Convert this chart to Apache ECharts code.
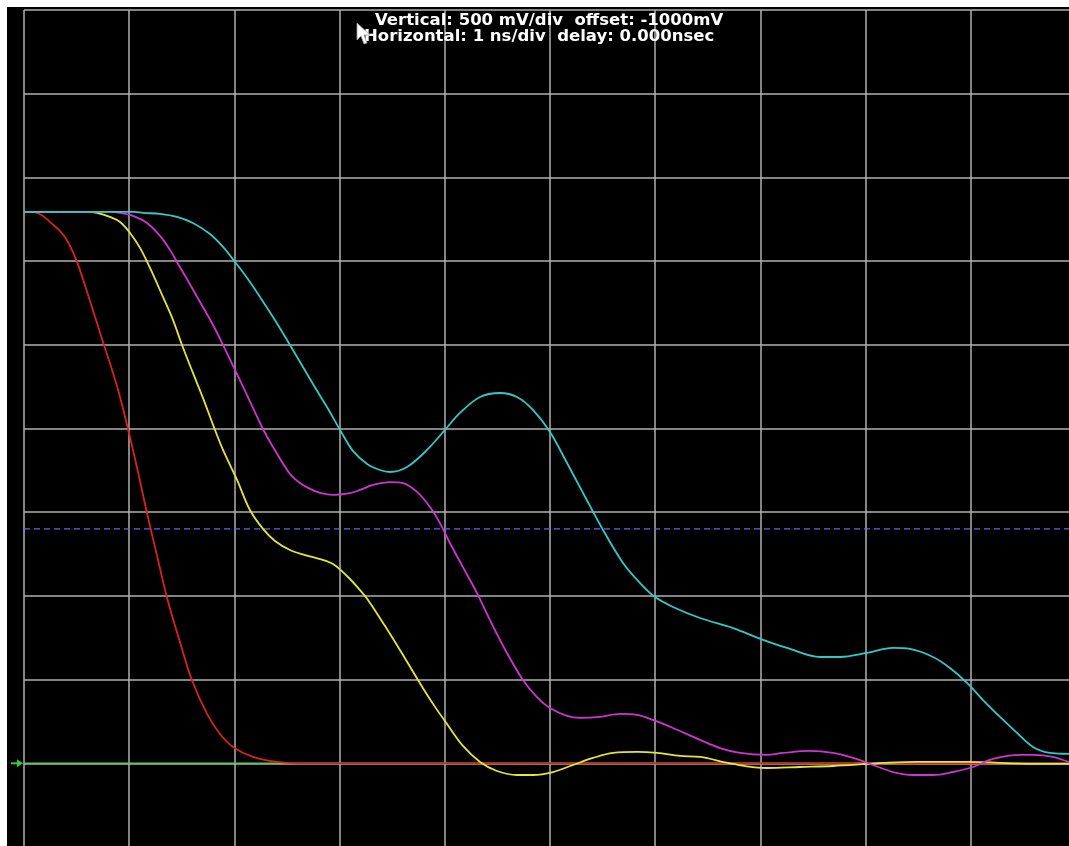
<!DOCTYPE html>
<html>
<head>
<meta charset="utf-8">
<script src="https://cdn.jsdelivr.net/npm/echarts@6/dist/echarts.min.js"></script>
<style>
  html, body { margin: 0; padding: 0; background: #ffffff; }
  #chart { position: absolute; left: 0; top: 0; width: 1069px; height: 846px; }
</style>
</head>
<body>
<div id="chart"></div>
<script>
// ---- Scope settings / labels ----
const headerLine1 = 'Vertical: 500 mV/div  offset: -1000mV';
const headerLine2 = 'Horizontal: 1 ns/div  delay: 0.000nsec';
const timeMin = 0, timeMax = 10, timeDiv = 1;          // ns
const voltMin = -500, voltMax = 4500, voltDiv = 500;   // mV
const groundLevel = 0;       // mV (green reference)
const thresholdLevel = 1400; // mV (blue dashed cursor)

// ---- Traces (time in ns, voltage in mV) ----
const redTime = [0, 0.105, 0.181, 0.247, 0.342, 0.418, 0.504, 0.627, 0.751, 0.884, 0.989, 1.084, 1.169, 1.264, 1.359, 1.483, 1.597, 1.740, 1.863, 1.987, 2.177, 2.405, 2.624, 4.0, 6.0, 8.0, 10.0];
const redVolt = [3294, 3291, 3270, 3234, 3180, 3114, 2995, 2762, 2517, 2254, 1997, 1740, 1495, 1242, 991, 723, 496, 295, 175, 98, 38, 8, 0, 0, 0, 0, 0];

const yellowTime = [0, 0.6, 0.694, 0.817, 0.913, 1.008, 1.103, 1.198, 1.321, 1.416, 1.502, 1.606, 1.701, 1.797, 1.892, 2.025, 2.148, 2.272, 2.386, 2.529, 2.671, 2.814, 2.937, 3.070, 3.194, 3.270, 3.432, 3.574, 3.745, 3.888, 4.021, 4.173, 4.335, 4.496, 4.686, 4.838, 5.029, 5.219, 5.409, 5.599, 5.827, 6.017, 6.236, 6.426, 6.740, 7.063, 7.376, 7.690, 8.013, 8.165, 8.489, 8.964, 9.591, 10.0];
const yellowVolt = [3294, 3294, 3288, 3264, 3234, 3168, 3079, 2959, 2786, 2649, 2499, 2332, 2183, 2022, 1872, 1693, 1513, 1400, 1328, 1274, 1244, 1220, 1190, 1119, 1035, 976, 820, 677, 498, 355, 235, 104, 8, -46, -70, -70, -52, -10, 32, 62, 68, 62, 44, 38, -4, -28, -22, -16, -4, 2, 8, 8, -4, -4];

const magentaTime = [0, 0.817, 0.913, 1.036, 1.169, 1.293, 1.388, 1.454, 1.549, 1.673, 1.797, 1.892, 1.987, 2.120, 2.272, 2.367, 2.529, 2.624, 2.719, 2.814, 2.937, 3.099, 3.194, 3.318, 3.479, 3.603, 3.736, 3.859, 3.954, 4.049, 4.173, 4.306, 4.430, 4.591, 4.743, 4.876, 5.000, 5.162, 5.285, 5.475, 5.665, 5.827, 5.979, 6.169, 6.426, 6.616, 6.806, 7.063, 7.215, 7.471, 7.690, 7.880, 8.070, 8.260, 8.451, 8.641, 8.831, 9.021, 9.211, 9.468, 9.591, 9.781, 9.933, 10.0];
const magentaVolt = [3294, 3294, 3288, 3270, 3228, 3151, 3067, 2995, 2893, 2756, 2618, 2499, 2374, 2200, 1997, 1890, 1728, 1674, 1639, 1615, 1603, 1614, 1633, 1663, 1680, 1674, 1621, 1531, 1435, 1316, 1172, 1017, 855, 659, 498, 396, 330, 283, 271, 277, 295, 289, 259, 211, 140, 91, 62, 50, 62, 74, 62, 32, -10, -52, -70, -70, -52, -22, 26, 50, 50, 38, 8, 0];

const cyanTime = [0, 1.05, 1.131, 1.293, 1.454, 1.606, 1.768, 1.892, 2.006, 2.120, 2.243, 2.367, 2.500, 2.624, 2.747, 2.880, 3.004, 3.127, 3.261, 3.384, 3.479, 3.641, 3.831, 4.002, 4.144, 4.335, 4.525, 4.686, 4.838, 5.000, 5.162, 5.314, 5.504, 5.694, 5.856, 5.998, 6.169, 6.426, 6.740, 7.006, 7.253, 7.567, 7.757, 8.013, 8.260, 8.422, 8.641, 8.802, 8.964, 9.116, 9.278, 9.439, 9.591, 9.753, 9.933, 10.0];
const cyanVolt = [3294, 3294, 3288, 3282, 3264, 3228, 3162, 3085, 2995, 2900, 2786, 2666, 2529, 2397, 2266, 2128, 1992, 1866, 1788, 1752, 1740, 1770, 1872, 1992, 2093, 2188, 2212, 2188, 2111, 1979, 1794, 1615, 1394, 1197, 1077, 993, 934, 868, 808, 742, 689, 635, 635, 659, 689, 683, 635, 569, 480, 378, 277, 182, 98, 62, 56, 54];

function zip(ts, vs) { return ts.map((t, i) => [t, vs[i]]); }

const chart = echarts.init(document.getElementById('chart'), null, { renderer: 'canvas' });

function trace(name, color, ts, vs) {
  return {
    name, type: 'line', data: zip(ts, vs), showSymbol: false, symbol: 'none',
    smooth: 0.35, clip: true,
    lineStyle: { color, width: 1.8 }, silent: true
  };
}

const splitStyle = { show: true, lineStyle: { color: '#b0b0b0', width: 1.5 } };

const option = {
  animation: false,
  backgroundColor: '#000000',
  grid: { left: 24, top: 10, width: 1052, height: 837, containLabel: false, outerBoundsMode: 'none' },
  xAxis: {
    type: 'value', min: timeMin, max: timeMax, interval: timeDiv,
    axisLine: { show: false }, axisTick: { show: false }, axisLabel: { show: false },
    splitLine: splitStyle
  },
  yAxis: {
    type: 'value', min: voltMin, max: voltMax, interval: voltDiv,
    axisLine: { show: false }, axisTick: { show: false }, axisLabel: { show: false },
    splitLine: splitStyle
  },
  series: [
    { name: 'ground', type: 'line', data: [[timeMin, groundLevel], [timeMax, groundLevel]], symbol: 'none',
      lineStyle: { color: '#58c858', width: 1.5 }, silent: true },
    { name: 'threshold', type: 'line', data: [[timeMin, thresholdLevel], [timeMax, thresholdLevel]], symbol: 'none',
      lineStyle: { color: '#6464f0', width: 1.2, type: [6, 4] }, silent: true },
    trace('red', '#d82222', redTime, redVolt),
    trace('yellow', '#e6e634', yellowTime, yellowVolt),
    trace('magenta', '#d034d0', magentaTime, magentaVolt),
    trace('cyan', '#34c8c8', cyanTime, cyanVolt)
  ]
};
chart.setOption(option);

const gy = chart.convertToPixel({ yAxisIndex: 0 }, groundLevel);
const headerFont = 'bold 16.5px "DejaVu Sans"';

chart.setOption({
  graphic: [
    { type: 'rect', shape: { x: 0, y: 0, width: 1069, height: 7 }, style: { fill: '#ffffff' }, z: 100 },
    { type: 'rect', shape: { x: 0, y: 0, width: 7, height: 846 }, style: { fill: '#ffffff' }, z: 100 },
    { type: 'line', shape: { x1: 11, y1: gy, x2: 20, y2: gy }, style: { stroke: '#3cc83c', lineWidth: 2 }, z: 100 },
    { type: 'polygon', shape: { points: [[17, gy - 4], [23, gy], [17, gy + 4]] }, style: { fill: '#3cc83c' }, z: 100 },
    { type: 'text', x: 375, y: 21, style: { text: headerLine1, fill: '#ffffff', font: headerFont, textVerticalAlign: 'middle' }, z: 100 },
    { type: 'text', x: 364, y: 37, style: { text: headerLine2, fill: '#ffffff', font: headerFont, textVerticalAlign: 'middle' }, z: 100 },
    { type: 'polygon', shape: { points: [[357, 23], [357, 40], [361, 36], [364, 44], [367, 43], [364, 35], [370, 35]] },
      style: { fill: '#ffffff', stroke: '#9a9a9a', lineWidth: 0.8 }, z: 101 }
  ]
});
</script>
</body>
</html>
